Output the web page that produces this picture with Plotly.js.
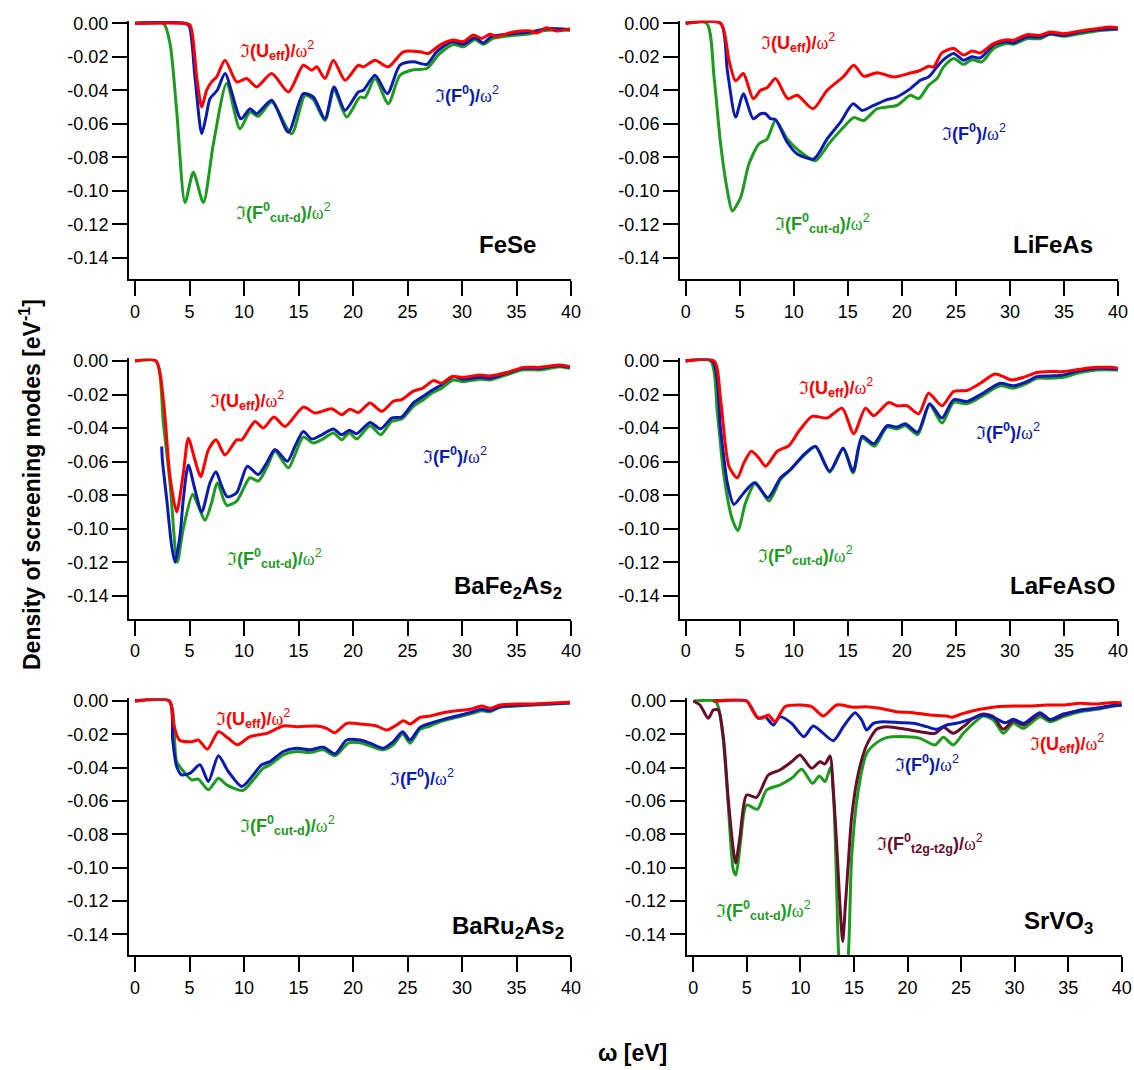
<!DOCTYPE html>
<html><head><meta charset="utf-8">
<script src="https://cdn.plot.ly/plotly-3.0.1.min.js"></script>
<style>html,body{margin:0;padding:0;background:#fff}#g{width:1134px;height:1070px}</style>
</head><body><div id="g"></div>
<script>
// ---------- DATA: [omega (eV), value (eV^-1)] ----------
const feseUeff = [[0,0],[4.43,0],[5.05,-0.001],[5.66,-0.032],[6.12,-0.050],[6.57,-0.040],[7.03,-0.035],[7.49,-0.032],[8.26,-0.022],[9.33,-0.035],[10.24,-0.033],[11.16,-0.038],[12.54,-0.030],[14.07,-0.041],[15.44,-0.025],[16.21,-0.028],[16.67,-0.026],[17.43,-0.033],[18.2,-0.022],[19.27,-0.034],[20.49,-0.025],[20.95,-0.026],[22.02,-0.022],[23.24,-0.026],[24.62,-0.017],[26.15,-0.017],[26.91,-0.018],[27.98,-0.013],[29.2,-0.010],[30.12,-0.011],[31.04,-0.007],[31.8,-0.009],[32.57,-0.0066],[33.18,-0.0078],[34.7,-0.0052],[36.24,-0.0046],[36.85,-0.0058],[37.77,-0.0026],[38.69,-0.0046],[39.9,-0.0032]];
const feseF0 = [[0,0],[4.59,0],[4.98,-0.0018],[5.5,-0.032],[6.12,-0.066],[6.51,-0.056],[6.88,-0.045],[7.55,-0.040],[8.26,-0.030],[9.72,-0.057],[10.55,-0.051],[11.16,-0.054],[12.54,-0.046],[14.07,-0.065],[15.44,-0.042],[16.36,-0.044],[17.43,-0.057],[18.26,-0.038],[19.27,-0.052],[20.49,-0.041],[20.95,-0.040],[22.02,-0.031],[23.15,-0.042],[24.31,-0.025],[25.54,-0.023],[26.76,-0.0245],[27.68,-0.017],[29.05,-0.011],[30.12,-0.0125],[31.19,-0.0086],[31.96,-0.0117],[32.72,-0.0078],[34.7,-0.0062],[36.24,-0.0052],[37.77,-0.0032],[39.9,-0.0038]];
const feseCut = [[0,0],[2.6,0],[3.21,-0.012],[3.82,-0.052],[4.59,-0.107],[5.35,-0.089],[6.27,-0.107],[7.19,-0.072],[8.41,-0.036],[9.63,-0.063],[10.55,-0.053],[11.31,-0.0555],[12.54,-0.047],[14.37,-0.066],[15.6,-0.043],[16.36,-0.0456],[17.43,-0.058],[18.26,-0.040],[19.42,-0.056],[20.64,-0.044],[21.1,-0.0444],[22.02,-0.033],[23.24,-0.048],[24.31,-0.031],[25.54,-0.0277],[26.76,-0.027],[27.98,-0.018],[29.2,-0.0127],[30.12,-0.014],[31.19,-0.0098],[31.96,-0.0125],[32.87,-0.009],[34.7,-0.0072],[36.24,-0.0062],[37.77,-0.0042],[39.9,-0.0042]];

const lifeasUeff = [[0,0],[3.23,0],[4.0,-0.022],[4.62,-0.0344],[5.33,-0.030],[6.25,-0.045],[6.93,-0.040],[7.54,-0.0384],[8.31,-0.033],[9.45,-0.045],[10.32,-0.043],[11.79,-0.051],[13.09,-0.040],[14.63,-0.0316],[15.55,-0.025],[16.47,-0.0316],[17.71,-0.0295],[19.25,-0.032],[20.79,-0.0297],[21.56,-0.0285],[22.48,-0.0257],[22.94,-0.026],[23.71,-0.0177],[24.79,-0.0151],[25.71,-0.019],[26.48,-0.0165],[27.25,-0.0177],[28.48,-0.0121],[29.71,-0.0098],[30.33,-0.0101],[31.56,-0.0068],[32.79,-0.0072],[33.72,-0.0052],[34.95,-0.0062],[36.49,-0.0046],[38.03,-0.0032],[39.26,-0.0022],[40,-0.0026]];
const lifeasF0 = [[0,0],[3.23,0],[3.85,-0.028],[4.62,-0.056],[5.33,-0.042],[6.25,-0.057],[6.93,-0.054],[7.39,-0.054],[7.85,-0.057],[8.31,-0.0575],[9.39,-0.071],[10.32,-0.078],[11.86,-0.081],[13.09,-0.069],[14.32,-0.059],[15.49,-0.048],[16.32,-0.052],[17.4,-0.049],[18.63,-0.0456],[19.4,-0.0444],[20.79,-0.039],[21.71,-0.034],[22.48,-0.032],[23.25,-0.026],[23.86,-0.0217],[24.79,-0.018],[25.71,-0.022],[26.48,-0.020],[27.25,-0.0207],[28.48,-0.013],[29.71,-0.011],[30.33,-0.0117],[31.56,-0.0082],[32.79,-0.0082],[33.72,-0.0062],[34.95,-0.0072],[36.49,-0.0052],[38.03,-0.0038],[40,-0.0032]];
const lifeasCut = [[0,0],[1.94,0],[2.62,-0.032],[3.23,-0.072],[3.85,-0.0997],[4.31,-0.112],[5.08,-0.104],[5.85,-0.084],[6.77,-0.072],[7.54,-0.069],[8.31,-0.058],[9.39,-0.069],[10.47,-0.076],[12.01,-0.082],[13.24,-0.072],[14.47,-0.063],[15.55,-0.0563],[16.47,-0.058],[17.71,-0.051],[19.55,-0.049],[20.79,-0.043],[21.56,-0.045],[22.48,-0.037],[23.25,-0.033],[23.86,-0.026],[24.79,-0.021],[25.71,-0.0245],[26.48,-0.0217],[27.4,-0.023],[28.48,-0.015],[29.71,-0.012],[30.33,-0.0125],[31.56,-0.0092],[32.79,-0.0092],[33.72,-0.0066],[34.95,-0.0078],[36.49,-0.0062],[38.03,-0.0046],[40,-0.0036]];

const bafeUeff = [[0,0],[1.93,0],[2.6,-0.023],[3.21,-0.069],[3.82,-0.090],[4.43,-0.067],[4.89,-0.046],[5.5,-0.059],[6.02,-0.069],[6.73,-0.053],[7.43,-0.047],[8.26,-0.056],[9.33,-0.047],[9.79,-0.047],[11.01,-0.036],[11.77,-0.040],[12.75,-0.0334],[13.76,-0.039],[15.44,-0.0275],[16.51,-0.031],[18.04,-0.0285],[18.96,-0.032],[19.72,-0.0287],[20.49,-0.0307],[21.56,-0.025],[22.63,-0.030],[23.7,-0.024],[24.46,-0.023],[25.54,-0.018],[26.45,-0.016],[27.37,-0.0117],[28.13,-0.0133],[29.05,-0.0093],[30.12,-0.0097],[31.65,-0.0083],[32.57,-0.0089],[34.1,-0.0069],[35.63,-0.0038],[37.16,-0.0038],[38.07,-0.003],[38.99,-0.0024],[39.9,-0.0034]];
const bafeF0 = [[2.45,-0.051],[2.51,-0.059],[2.91,-0.0825],[3.36,-0.110],[3.67,-0.120],[4.13,-0.104],[4.43,-0.0825],[4.89,-0.062],[5.5,-0.0766],[6.12,-0.090],[6.88,-0.0726],[7.43,-0.066],[7.95,-0.0746],[8.47,-0.081],[9.33,-0.0785],[10.31,-0.0627],[11.31,-0.0677],[12.08,-0.0607],[12.84,-0.0528],[13.98,-0.0597],[14.68,-0.0508],[15.44,-0.042],[16.21,-0.0465],[17.13,-0.044],[18.2,-0.0405],[18.96,-0.044],[19.66,-0.0413],[20.34,-0.0433],[21.56,-0.0366],[22.54,-0.0405],[23.55,-0.034],[24.46,-0.0334],[25.54,-0.025],[26.45,-0.021],[27.22,-0.0176],[28.13,-0.0142],[29.2,-0.0093],[30.12,-0.0109],[31.65,-0.0097],[32.57,-0.0103],[34.1,-0.0073],[35.63,-0.0044],[37.16,-0.0044],[38.07,-0.0034],[38.99,-0.0028],[39.9,-0.0038]];
const bafeCut = [[0,0],[1.93,0],[2.6,-0.037],[3.21,-0.0726],[3.88,-0.120],[4.43,-0.100],[5.29,-0.0795],[5.81,-0.0864],[6.42,-0.095],[7.03,-0.0845],[7.55,-0.0726],[8.41,-0.086],[9.33,-0.0835],[10.55,-0.0696],[11.31,-0.0716],[12.08,-0.0637],[12.84,-0.0538],[14.07,-0.0637],[14.68,-0.0558],[15.44,-0.0453],[16.36,-0.0489],[17.13,-0.0469],[18.2,-0.0429],[18.96,-0.0469],[19.66,-0.0429],[20.34,-0.0465],[21.56,-0.0386],[22.54,-0.0439],[23.55,-0.036],[24.46,-0.0346],[25.54,-0.0271],[26.45,-0.0231],[27.22,-0.0192],[28.13,-0.0162],[29.2,-0.0113],[30.12,-0.0123],[31.65,-0.0109],[32.57,-0.0113],[34.1,-0.0083],[35.63,-0.0053],[37.16,-0.0053],[38.07,-0.0044],[38.99,-0.0034],[39.9,-0.0044]];

const lafeUeff = [[0,0],[2.62,0],[3.23,-0.023],[4.0,-0.0627],[4.77,-0.0696],[5.39,-0.0607],[6.07,-0.0538],[6.77,-0.0578],[7.39,-0.0627],[8.47,-0.0538],[9.55,-0.0504],[10.47,-0.0419],[11.7,-0.033],[13.09,-0.034],[14.47,-0.0281],[15.55,-0.0433],[16.63,-0.0281],[17.4,-0.0326],[18.78,-0.0247],[19.55,-0.0267],[20.48,-0.0267],[21.56,-0.0315],[22.48,-0.0192],[23.71,-0.0267],[24.79,-0.0182],[26.02,-0.0176],[27.25,-0.0133],[28.64,-0.0077],[30.18,-0.0113],[31.26,-0.0097],[32.49,-0.0069],[33.72,-0.0063],[34.95,-0.0063],[36.49,-0.0049],[38.03,-0.0038],[39.26,-0.0038],[40,-0.0044]];
const lafeF0 = [[0,0],[2.46,0],[3.23,-0.041],[3.85,-0.0726],[4.46,-0.0855],[5.39,-0.0785],[6.37,-0.0726],[7.61,-0.0815],[8.78,-0.0696],[9.7,-0.0647],[10.93,-0.0558],[12.01,-0.0508],[13.33,-0.0657],[14.57,-0.0518],[15.49,-0.0657],[16.32,-0.0449],[17.4,-0.0493],[18.63,-0.0386],[19.55,-0.0394],[20.32,-0.0374],[21.46,-0.0425],[22.57,-0.0255],[23.71,-0.034],[24.79,-0.0231],[26.02,-0.0241],[27.25,-0.0202],[29.1,-0.0133],[30.33,-0.0148],[31.56,-0.0123],[32.49,-0.0093],[33.72,-0.0089],[34.95,-0.0083],[36.49,-0.0057],[38.03,-0.0044],[40,-0.0047]];
const lafeCut = [[0,0],[2.31,0],[2.93,-0.031],[3.54,-0.0686],[4.31,-0.0944],[4.83,-0.101],[5.54,-0.0845],[6.47,-0.0726],[7.7,-0.0835],[8.78,-0.0706],[9.7,-0.0647],[10.93,-0.0564],[12.01,-0.0512],[13.33,-0.0663],[14.57,-0.0524],[15.49,-0.0667],[16.32,-0.0459],[17.46,-0.0508],[18.63,-0.0394],[19.55,-0.0406],[20.32,-0.0386],[21.46,-0.0439],[22.57,-0.0261],[23.71,-0.037],[24.79,-0.0247],[26.02,-0.0255],[27.25,-0.0216],[29.1,-0.0148],[30.33,-0.0162],[31.56,-0.0133],[32.49,-0.0103],[33.72,-0.0103],[34.95,-0.0097],[36.49,-0.0069],[38.03,-0.0053],[40,-0.0053]];

const baruUeff = [[0,0],[3.15,0],[3.52,-0.0134],[4.07,-0.0234],[5.2,-0.0244],[5.81,-0.0234],[6.64,-0.029],[7.65,-0.0184],[8.56,-0.0224],[9.39,-0.0263],[10.55,-0.0214],[12.08,-0.0194],[13.61,-0.015],[14.83,-0.0154],[16.67,-0.015],[17.58,-0.0164],[18.35,-0.019],[19.42,-0.0134],[20.95,-0.014],[22.17,-0.015],[23.09,-0.0174],[24.01,-0.0144],[24.62,-0.0118],[25.23,-0.0138],[26.15,-0.0098],[27.06,-0.009],[28.29,-0.007],[29.51,-0.0058],[30.73,-0.005],[31.8,-0.003],[32.57,-0.0044],[33.49,-0.0024],[35.02,-0.0018],[36.24,-0.0018],[37.77,-0.0014],[39.9,-0.0008]];
const baruF0 = [[0,0],[3.15,0],[3.46,-0.0234],[3.82,-0.0393],[4.28,-0.0443],[5.05,-0.0433],[5.96,-0.0383],[6.73,-0.0483],[7.65,-0.0329],[8.56,-0.0423],[9.79,-0.0513],[10.86,-0.0443],[11.62,-0.0383],[12.39,-0.0363],[13.61,-0.0303],[14.83,-0.0283],[16.06,-0.0293],[17.28,-0.0277],[18.35,-0.0317],[19.42,-0.0234],[20.64,-0.0234],[21.56,-0.0253],[22.78,-0.0283],[23.7,-0.0244],[24.56,-0.0184],[25.23,-0.0234],[26.15,-0.0158],[27.06,-0.0134],[28.29,-0.011],[29.51,-0.009],[30.73,-0.007],[31.8,-0.005],[32.57,-0.0058],[33.49,-0.0034],[35.02,-0.0026],[36.24,-0.0022],[37.77,-0.0018],[39.9,-0.001]];
const baruCut = [[0,0],[3.15,0],[3.82,-0.0363],[4.59,-0.0433],[5.2,-0.0473],[5.81,-0.0469],[6.73,-0.0533],[7.65,-0.0463],[8.41,-0.0503],[9.88,-0.0537],[10.86,-0.0473],[11.77,-0.0403],[12.39,-0.0383],[13.61,-0.0323],[14.83,-0.0303],[16.06,-0.0309],[17.28,-0.0293],[18.35,-0.0329],[19.57,-0.0253],[20.64,-0.025],[21.56,-0.0269],[22.78,-0.0293],[23.7,-0.0263],[24.56,-0.0198],[25.23,-0.0253],[26.15,-0.017],[27.06,-0.015],[28.29,-0.0118],[29.51,-0.0098],[30.73,-0.0078],[31.8,-0.0058],[32.57,-0.0064],[33.49,-0.0038],[35.02,-0.003],[36.24,-0.0026],[37.77,-0.002],[39.9,-0.0014]];

const srvoUeff = [[1.87,0],[4.98,0],[5.45,-0.0044],[5.91,-0.0094],[6.38,-0.0104],[7.0,-0.0084],[7.63,-0.0124],[8.56,-0.0034],[9.96,-0.0024],[11.05,-0.0034],[12.14,-0.009],[13.39,-0.0024],[14.94,-0.0038],[16.19,-0.0034],[17.43,-0.0044],[18.99,-0.0064],[20.54,-0.007],[22.1,-0.0084],[23.66,-0.009],[24.12,-0.0098],[25.21,-0.0074],[26.77,-0.005],[28.33,-0.0034],[29.88,-0.003],[31.44,-0.003],[33.0,-0.0024],[34.55,-0.0024],[36.11,-0.0014],[37.67,-0.0018],[38.91,-0.001],[40,-0.001]];
const srvoF0 = [[1.87,0],[4.98,0],[5.45,-0.0044],[6.07,-0.0104],[6.69,-0.0094],[7.47,-0.0144],[8.09,-0.0094],[9.18,-0.0134],[10.33,-0.0214],[11.21,-0.015],[13.07,-0.0238],[14.01,-0.0154],[15.1,-0.007],[15.72,-0.0114],[16.19,-0.0174],[16.81,-0.0134],[17.74,-0.0124],[19.3,-0.013],[20.54,-0.0134],[21.79,-0.0154],[22.72,-0.017],[23.66,-0.0144],[24.59,-0.0134],[25.84,-0.011],[26.93,-0.0084],[28.02,-0.0098],[29.11,-0.013],[29.88,-0.011],[30.82,-0.0134],[32.37,-0.007],[33.31,-0.011],[34.55,-0.0078],[36.11,-0.0058],[37.67,-0.0044],[38.91,-0.003],[40,-0.0024]];
const srvoCut = [[0,0],[2.02,0],[2.33,-0.0034],[2.8,-0.0234],[3.27,-0.0634],[3.74,-0.1014],[3.98,-0.1044],[4.36,-0.0874],[4.98,-0.0624],[5.98,-0.065],[6.85,-0.0534],[8.09,-0.0504],[9.18,-0.0464],[10.12,-0.041],[11.14,-0.0494],[11.77,-0.045],[12.3,-0.0484],[12.82,-0.0398],[13.14,-0.0634],[13.39,-0.1134],[13.6,-0.155],[14.0,-0.175],[14.45,-0.155],[14.79,-0.0934],[15.41,-0.0534],[16.19,-0.0314],[17.12,-0.025],[18.05,-0.022],[19.92,-0.0214],[21.17,-0.0224],[22.57,-0.0264],[23.35,-0.0218],[24.28,-0.0264],[25.21,-0.0194],[26.15,-0.0134],[27.08,-0.009],[28.02,-0.0114],[28.95,-0.0194],[29.88,-0.0134],[30.82,-0.0164],[32.37,-0.0094],[33.31,-0.0124],[34.55,-0.0094],[36.11,-0.0064],[37.67,-0.005],[38.91,-0.0034],[40,-0.0024]];
const srvoT2g = [[0,0],[0.62,-0.0024],[1.4,-0.0104],[1.87,-0.0054],[2.33,-0.0054],[2.8,-0.0214],[3.27,-0.0594],[3.74,-0.0894],[3.95,-0.0974],[4.36,-0.0814],[4.98,-0.0564],[5.91,-0.0578],[7.0,-0.0444],[8.09,-0.0414],[9.18,-0.0364],[9.96,-0.0324],[11.05,-0.0404],[11.83,-0.0364],[12.3,-0.0378],[12.76,-0.033],[13.07,-0.0534],[13.45,-0.0934],[13.7,-0.1234],[13.95,-0.1444],[14.19,-0.1234],[14.47,-0.0974],[14.79,-0.0694],[15.41,-0.0434],[16.19,-0.0264],[17.12,-0.017],[18.05,-0.0154],[19.92,-0.017],[21.17,-0.0184],[22.57,-0.0194],[23.35,-0.0158],[24.28,-0.0194],[25.21,-0.0154],[26.15,-0.0104],[27.08,-0.0078],[28.02,-0.0094],[28.95,-0.017],[29.88,-0.0118],[30.82,-0.0144],[32.37,-0.0078],[33.31,-0.0114],[34.55,-0.0084],[36.11,-0.0054],[37.67,-0.0044],[38.91,-0.003],[40,-0.0024]];

const materials = ['FeSe','LiFeAs','BaFe<sub>2</sub>As<sub>2</sub>','LaFeAsO','BaRu<sub>2</sub>As<sub>2</sub>','SrVO<sub>3</sub>'];
const xTickVals = [0,5,10,15,20,25,30,35,40];
const xTickText = ['0','5','10','15','20','25','30','35','40'];
const yTickVals = [0,-0.02,-0.04,-0.06,-0.08,-0.10,-0.12,-0.14];
const yTickText = ['0.00','-0.02','-0.04','-0.06','-0.08','-0.10','-0.12','-0.14'];
const yTitle = 'Density of screening modes [eV<sup>-1</sup>]';
const xTitle = 'ω [eV]';

// ---------- STYLE / LAYOUT ----------
const W = 1134, H = 1070;
const RED = '#ff0000', BLUE = '#0c1ab4', GREEN = '#1c9c1c', MAROON = '#6a0c2c';
const FONT = 'Liberation Sans, Arial, sans-serif';
// pixel geometry per panel: left, right, top, bottom, px of 0 eV, px per eV, px of y=0, px per 0.02
const geom = [
  {l:129, r:571, t:20.7, b:279.3, x0:135, sx:10.9, y0:23.3, sy:33.5},
  {l:680, r:1118, t:20.7, b:279.3, x0:685.7, sx:10.8075, y0:23.3, sy:33.5},
  {l:129, r:571, t:358.4, b:618.5, x0:135, sx:10.9, y0:361, sy:33.55},
  {l:680, r:1118, t:358.4, b:618.5, x0:685.7, sx:10.8075, y0:361, sy:33.55},
  {l:129, r:571, t:698.4, b:955, x0:135, sx:10.9, y0:701, sy:33.33},
  {l:686.7, r:1121.7, t:698.4, b:955, x0:693.3, sx:10.71, y0:701, sy:33.33}
];
const seriesPerPanel = [
  [[feseCut,GREEN],[feseF0,BLUE],[feseUeff,RED]],
  [[lifeasCut,GREEN],[lifeasF0,BLUE],[lifeasUeff,RED]],
  [[bafeCut,GREEN],[bafeF0,BLUE],[bafeUeff,RED]],
  [[lafeCut,GREEN],[lafeF0,BLUE],[lafeUeff,RED]],
  [[baruCut,GREEN],[baruF0,BLUE],[baruUeff,RED]],
  [[srvoCut,GREEN],[srvoT2g,MAROON],[srvoF0,BLUE],[srvoUeff,RED]]
];

const IM = '<span style="font-family:DejaVu Serif;font-weight:normal">ℑ</span>';
const OM = '<span style="font-family:Liberation Serif;font-weight:normal">ω</span>';
const labUeff = IM + '<b>(U<sub>eff</sub>)/</b>' + OM + '<sup>2</sup>';
const labF0 = IM + '<b>(F<sup>0</sup>)/</b>' + OM + '<sup>2</sup>';
const labCut = IM + '<b>(F<sup>0</sup><sub>cut-d</sub>)/</b>' + OM + '<sup>2</sup>';
const labT2g = IM + '<b>(F<sup>0</sup><sub>t2g-t2g</sub>)/</b>' + OM + '<sup>2</sup>';

// label placements (pixel centers)
const curveLabels = [
  [labUeff,RED,277,50],[labF0,BLUE,467,95],[labCut,GREEN,283,213],
  [labUeff,RED,798,42],[labF0,BLUE,974,132],[labCut,GREEN,822,223],
  [labUeff,RED,247,400],[labF0,BLUE,455,455],[labCut,GREEN,274,558],
  [labUeff,RED,836,387],[labF0,BLUE,1008,432],[labCut,GREEN,805,555],
  [labUeff,RED,253,718],[labF0,BLUE,422,777],[labCut,GREEN,287,825],
  [labUeff,RED,1067,743],[labF0,BLUE,927,763],[labT2g,MAROON,930,843],[labCut,GREEN,763,910]
];
const namePos = [[507,245],[1053,245],[508,587],[1062,585],[508,927],[1058,922]];

const traces = [];
const layout = {
  width: W, height: H, margin: {l:0,r:0,t:0,b:0},
  paper_bgcolor: '#fff', plot_bgcolor: 'rgba(0,0,0,0)',
  showlegend: false, font: {family: FONT, size: 18, color: '#000'},
  annotations: []
};

geom.forEach((g, i) => {
  const k = i === 0 ? '' : String(i + 1);
  const xr = [(g.l - g.x0) / g.sx, (g.r - g.x0) / g.sx];
  const yr = [-(g.b - g.y0) / g.sy * 0.02, (g.y0 - g.t) / g.sy * 0.02];
  const common = {
    showline: true, linecolor: '#000', linewidth: 2, mirror: false,
    ticks: 'outside', ticklen: 15, tickwidth: 2, tickcolor: '#000',
    showgrid: false, zeroline: false, fixedrange: true,
    tickfont: {family: FONT, size: 18, color: '#000'}
  };
  layout['xaxis' + k] = Object.assign({}, common, {
    domain: [g.l / W, g.r / W], range: xr, anchor: 'y' + k,
    tickmode: 'array', tickvals: xTickVals, ticktext: xTickText
  });
  layout['yaxis' + k] = Object.assign({}, common, {
    domain: [1 - g.b / H, 1 - g.t / H], range: yr, anchor: 'x' + k,
    tickmode: 'array', tickvals: yTickVals, ticktext: yTickText
  });
  seriesPerPanel[i].forEach(([s, c]) => {
    traces.push({
      type: 'scatter', mode: 'lines',
      x: s.map(p => p[0]), y: s.map(p => p[1]),
      xaxis: 'x' + k, yaxis: 'y' + k,
      line: {color: c, width: 3, shape: 'spline', smoothing: 0.7},
      hoverinfo: 'skip'
    });
  });
  layout.annotations.push({
    xref: 'paper', yref: 'paper', x: namePos[i][0] / W, y: 1 - namePos[i][1] / H,
    xanchor: 'center', yanchor: 'middle', showarrow: false,
    text: '<b>' + materials[i] + '</b>', font: {family: FONT, size: 24, color: '#000'}
  });
});

curveLabels.forEach(([t, c, px, py]) => {
  layout.annotations.push({
    xref: 'paper', yref: 'paper', x: px / W, y: 1 - py / H,
    xanchor: 'center', yanchor: 'middle', showarrow: false,
    text: t, font: {family: FONT, size: 18, color: c}
  });
});

layout.annotations.push({
  xref: 'paper', yref: 'paper', x: 30 / W, y: 1 - 485 / H, xanchor: 'center', yanchor: 'middle',
  showarrow: false, textangle: -90, text: '<b>' + yTitle + '</b>', font: {family: FONT, size: 23, color: '#000'}
});
layout.annotations.push({
  xref: 'paper', yref: 'paper', x: 632 / W, y: 1 - 1053 / H, xanchor: 'center', yanchor: 'middle',
  showarrow: false, text: '<b>' + xTitle + '</b>', font: {family: FONT, size: 23, color: '#000'}
});

Plotly.newPlot('g', traces, layout, {staticPlot: true, displayModeBar: false});
</script></body></html>
